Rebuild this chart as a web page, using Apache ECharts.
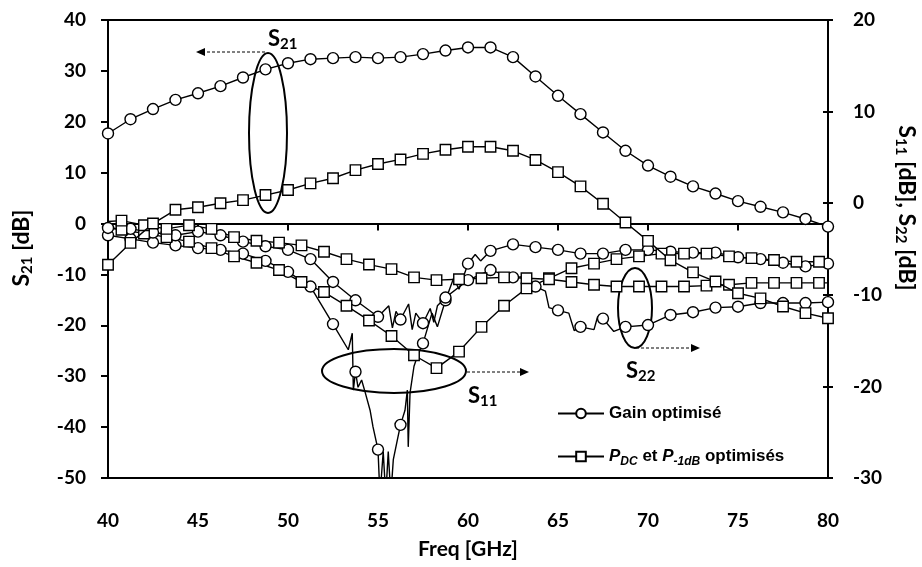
<!DOCTYPE html>
<html><head><meta charset="utf-8">
<script src="https://cdn.jsdelivr.net/npm/echarts@6/dist/echarts.min.js"></script>
<style>html,body{margin:0;padding:0;background:#fff}#c{width:922px;height:567px}</style>
</head><body><div id="c"></div>
<script>
// ---- data ----
const xTicks = [40, 45, 50, 55, 60, 65, 70, 75, 80];
const leftTicks = [-50, -40, -30, -20, -10, 0, 10, 20, 30, 40];
const rightTicks = [-30, -20, -10, 0, 10, 20];

// marker frequencies (GHz)
const fGain = [40, 41.25, 42.5, 43.75, 45, 46.25, 47.5, 48.75, 50, 51.25, 52.5, 53.75, 55, 56.25, 57.5, 58.75, 60,
  61.25, 62.5, 63.75, 65, 66.25, 67.5, 68.75, 70, 71.25, 72.5, 73.75, 75, 76.25, 77.5, 78.75, 80];
const fPdc = [40.75, 42, 43.25, 44.5, 45.75, 47, 48.25, 49.5, 50.75, 52, 53.25, 54.5, 55.75, 57, 58.25, 59.5,
  60.75, 62, 63.25, 64.5, 65.75, 67, 68.25, 69.5, 70.75, 72, 73.25, 74.5, 75.75, 77, 78.25, 79.5];

// S21 (left axis)
const s21Gain = [17.7, 20.5, 22.5, 24.3, 25.6, 27.0, 28.7, 30.3, 31.5, 32.3, 32.5, 32.7, 32.5, 32.7, 33.3, 34.0, 34.6,
  34.6, 32.7, 28.9, 25.1, 21.5, 17.9, 14.3, 11.4, 9.2, 7.3, 5.9, 4.4, 3.3, 2.2, 0.9, -0.6];
const s21Pdc = [-8.1, -3.8, 0.0, 2.7, 3.2, 4.0, 4.6, 5.6, 6.6, 7.9, 8.9, 10.5, 11.7, 12.6, 13.7, 14.5, 15.1,
  15.1, 14.3, 12.5, 10.1, 7.3, 3.9, 0.2, -3.4, -7.2, -9.6, -11.4, -13.7, -14.7, -16.3, -17.6, -18.6];

// S11 / S22 (right axis)
const s11Gain = [-3.5, -3.9, -4.3, -4.6, -4.9, -5.1, -5.5, -6.3, -7.5, -9.1, -13.2, -18.4, -26.9, -24.2, -15.3, -10.6, -6.6,
  -5.2, -4.5, -4.8, -5.1, -5.5, -5.5, -5.1, -5.1, -5.3, -5.4, -5.4, -5.9, -6.1, -6.5, -6.9, -6.6];
// unmarked trace points (ripple)
const s11DipF = [53.35, 53.57, 53.63, 53.89, 54.09, 54.28, 54.56, 54.72, 55.11, 55.29, 55.43, 55.57, 55.71, 55.85, 56.07,
  56.5, 56.63, 56.68, 56.78, 57.0, 57.24, 58.0, 58.3, 59.2, 59.5, 60.4, 60.7];
const s11DipV = [-16.0, -14.2, -20.4, -20.1, -19.3, -20.6, -22.6, -24.4, -32, -27.1, -32, -27.1, -32, -28.0, -25.9,
  -22.6, -20.4, -26.6, -20.7, -17.8, -16.4, -12.0, -13.5, -8.2, -9.4, -5.6, -6.3];
const s22Gain = [-2.7, -2.8, -3.2, -3.5, -3.1, -3.5, -4.2, -4.7, -5.1, -6.1, -8.6, -10.6, -12.4, -12.7, -13.1, -10.3, -8.4,
  -7.3, -8.1, -9.1, -11.7, -13.5, -12.6, -13.5, -13.3, -12.2, -11.9, -11.4, -11.3, -10.9, -10.9, -10.9, -10.8];
const s22RipF = [55.6, 55.8, 56.0, 56.7, 56.9, 57.1, 57.9, 58.1, 58.3, 63.3, 63.5, 64.3, 64.5, 65.6, 65.9, 67.0, 67.2, 68.1];
const s22RipV = [-11.2, -13.6, -11.8, -11.0, -13.8, -12.0, -11.5, -13.0, -11.2, -8.0, -9.8, -9.6, -11.4, -12.0, -13.9, -13.8, -12.4, -14.0];
const s11Pdc = [-2.9, -3.3, -3.7, -4.2, -4.9, -5.8, -6.5, -7.3, -8.6, -9.7, -11.2, -12.8, -14.5, -16.6, -18.0, -16.2,
  -13.5, -11.2, -9.3, -8.2, -7.1, -6.6, -6.1, -5.8, -5.5, -5.5, -5.5, -5.8, -6.0, -6.2, -6.4, -6.4];
const s11PdcEnds = [[40, -2.7], [80, -6.4]];
const s22Pdc = [-1.9, -2.4, -2.8, -2.4, -2.8, -3.7, -4.1, -4.3, -4.6, -5.3, -6.1, -6.7, -7.2, -8.1, -8.4, -8.3,
  -8.2, -8.1, -8.2, -8.3, -8.6, -8.9, -9.1, -9.1, -9.1, -9.1, -9.0, -8.9, -8.7, -8.7, -8.7, -8.7];
const s22PdcEnds = [[40, -2.0], [80, -8.7]];

// ---- build ----
function build(xs, ys, extraX, extraY) {
  const out = xs.map((x, i) => ({ value: [x, ys[i]] }));
  (extraX || []).forEach((x, i) => out.push({ value: [x, extraY[i]], symbol: 'none' }));
  out.sort((a, b) => a.value[0] - b.value[0]);
  return out;
}
const FONT = 'Lato';
const lineStyle = { color: '#000', width: 1.4 };
const mk = { color: '#fff', borderColor: '#000', borderWidth: 1.4 };
function ser(name, data, yIdx, sym, z) {
  return { name, type: 'line', data, yAxisIndex: yIdx, symbol: sym, symbolSize: sym === 'circle' ? 11 : 10.5,
    showAllSymbol: true, lineStyle, itemStyle: mk, z, animation: false, emphasis: { disabled: true } };
}
const GAIN = 'Gain optimisé', PDC = 'pdc';
const series = [
  ser(GAIN, build(fGain, s21Gain), 0, 'circle', 3),
  ser(PDC, build(fGain, s21Pdc), 0, 'rect', 3),
  ser(GAIN, build(fGain, s11Gain, s11DipF, s11DipV), 1, 'circle', 2),
  ser(GAIN, build(fGain, s22Gain, s22RipF, s22RipV), 1, 'circle', 2),
  ser(PDC, build(fPdc, s11Pdc, s11PdcEnds.map(p => p[0]), s11PdcEnds.map(p => p[1])), 1, 'rect', 2),
  ser(PDC, build(fPdc, s22Pdc, s22PdcEnds.map(p => p[0]), s22PdcEnds.map(p => p[1])), 1, 'rect', 2)
];

const tickLbl = { color: '#000', fontFamily: FONT, fontWeight: 'bold', fontSize: 19 };
const title = () => ({ fontFamily: FONT, fontWeight: 'bold', fontSize: 23, lineHeight: 26, fill: '#000' });
const sub = () => ({ fontFamily: FONT, fontWeight: 'bold', fontSize: 15, lineHeight: 15, verticalAlign: 'bottom', fill: '#000' });
const chart = echarts.init(document.getElementById('c'));
chart.setOption({
  animation: false,
  backgroundColor: '#fff',
  grid: { left: 108, right: 94, top: 20, bottom: 89, show: true, borderColor: '#000', borderWidth: 2, backgroundColor: 'transparent' },
  xAxis: {
    type: 'value', min: xTicks[0], max: xTicks[xTicks.length - 1], interval: 5,
    axisLine: { lineStyle: { color: '#000', width: 2 } },
    axisTick: { inside: false, length: 7, lineStyle: { color: '#000', width: 2 } },
    axisLabel: Object.assign({ margin: 33 }, tickLbl),
    splitLine: { show: false },
    name: 'Freq [GHz]', nameLocation: 'middle', nameGap: 61,
    nameTextStyle: { color: '#000', fontFamily: FONT, fontWeight: 'bold', fontSize: 21 }
  },
  yAxis: [
    { type: 'value', position: 'left', min: leftTicks[0], max: leftTicks[leftTicks.length - 1], interval: 10,
      axisLine: { show: true, lineStyle: { color: '#000', width: 2 } },
      axisTick: { show: true, inside: false, length: 7, lineStyle: { color: '#000', width: 2 } },
      axisLabel: Object.assign({ margin: 22 }, tickLbl), splitLine: { show: false } },
    { type: 'value', position: 'right', min: rightTicks[0], max: rightTicks[rightTicks.length - 1], interval: 10,
      axisLine: { show: true, lineStyle: { color: '#000', width: 2 } },
      axisTick: { show: true, inside: false, length: 5, lineStyle: { color: '#000', width: 2 } },
      axisLabel: Object.assign({ margin: 25 }, tickLbl), splitLine: { show: false } },
    { type: 'value', position: 'right', min: rightTicks[0], max: rightTicks[rightTicks.length - 1], interval: 10,
      axisLine: { show: false }, axisTick: { show: true, inside: true, length: 5, lineStyle: { color: '#000', width: 2 } },
      axisLabel: { show: false }, splitLine: { show: false } }
  ],
  legend: {
    data: [GAIN, PDC], orient: 'vertical', left: 557, top: 405, padding: 0, itemWidth: 46, itemHeight: 12, itemGap: 26,
    selectedMode: false,
    formatter: n => n === PDC ? '{i|P}{s|DC}{b| et }{i|P}{s|-1dB}{b| optimisés}' : '{b|Gain optimisé}',
    textStyle: { color: '#000', fontFamily: 'Liberation Sans', fontWeight: 'bold', fontSize: 17,
      rich: {
        b: { fontFamily: 'Liberation Sans', fontWeight: 'bold', fontSize: 17, lineHeight: 22 },
        i: { fontFamily: 'Liberation Sans', fontWeight: 'bold', fontStyle: 'italic', fontSize: 17, lineHeight: 22 },
        s: { fontFamily: 'Liberation Sans', fontWeight: 'bold', fontStyle: 'italic', fontSize: 12, lineHeight: 13, verticalAlign: 'bottom' }
      } }
  },
  series,
  graphic: [
    // axis titles
    { type: 'text', x: 22, y: 248, rotation: Math.PI / 2, silent: true,
      style: { text: '{a|S}{s|21}{a| [dB]}', align: 'center', verticalAlign: 'middle', rich: { a: title(), s: sub() } } },
    { type: 'text', x: 906, y: 208, rotation: -Math.PI / 2, silent: true,
      style: { text: '{a|S}{s|11}{a| [dB], S}{s|22}{a| [dB]}', align: 'center', verticalAlign: 'middle', rich: { a: title(), s: sub() } } },
    // S21 annotation
    { type: 'ellipse', shape: { cx: 268, cy: 133, rx: 19, ry: 80 }, style: { fill: 'none', stroke: '#000', lineWidth: 2 }, silent: true },
    { type: 'line', shape: { x1: 265, y1: 52, x2: 203, y2: 52 }, style: { stroke: '#000', lineWidth: 1, lineDash: [3, 2] }, silent: true },
    { type: 'polygon', shape: { points: [[196, 52], [205, 48], [205, 56]] }, style: { fill: '#000' }, silent: true },
    { type: 'text', x: 268, y: 26, silent: true,
      style: { text: '{a|S}{s|21}', rich: { a: { fontFamily: FONT, fontWeight: 'bold', fontSize: 22, lineHeight: 26, fill: '#000' }, s: sub() } } },
    // S11 annotation
    { type: 'ellipse', shape: { cx: 394, cy: 371, rx: 72, ry: 22 }, style: { fill: 'none', stroke: '#000', lineWidth: 2 }, silent: true },
    { type: 'line', shape: { x1: 467, y1: 372, x2: 521, y2: 372 }, style: { stroke: '#000', lineWidth: 1, lineDash: [3, 2] }, silent: true },
    { type: 'polygon', shape: { points: [[529, 372], [520, 368], [520, 376]] }, style: { fill: '#000' }, silent: true },
    { type: 'text', x: 468, y: 383, silent: true,
      style: { text: '{a|S}{s|11}', rich: { a: { fontFamily: FONT, fontWeight: 'bold', fontSize: 22, lineHeight: 26, fill: '#000' }, s: sub() } } },
    // S22 annotation
    { type: 'ellipse', shape: { cx: 635, cy: 308, rx: 17, ry: 40 }, style: { fill: 'none', stroke: '#000', lineWidth: 2 }, silent: true },
    { type: 'line', shape: { x1: 636, y1: 348, x2: 692, y2: 348 }, style: { stroke: '#000', lineWidth: 1, lineDash: [3, 2] }, silent: true },
    { type: 'polygon', shape: { points: [[700, 348], [691, 344], [691, 352]] }, style: { fill: '#000' }, silent: true },
    { type: 'text', x: 626, y: 358, silent: true,
      style: { text: '{a|S}{s|22}', rich: { a: { fontFamily: FONT, fontWeight: 'bold', fontSize: 22, lineHeight: 26, fill: '#000' }, s: sub() } } }
  ]
});
</script></body></html>
